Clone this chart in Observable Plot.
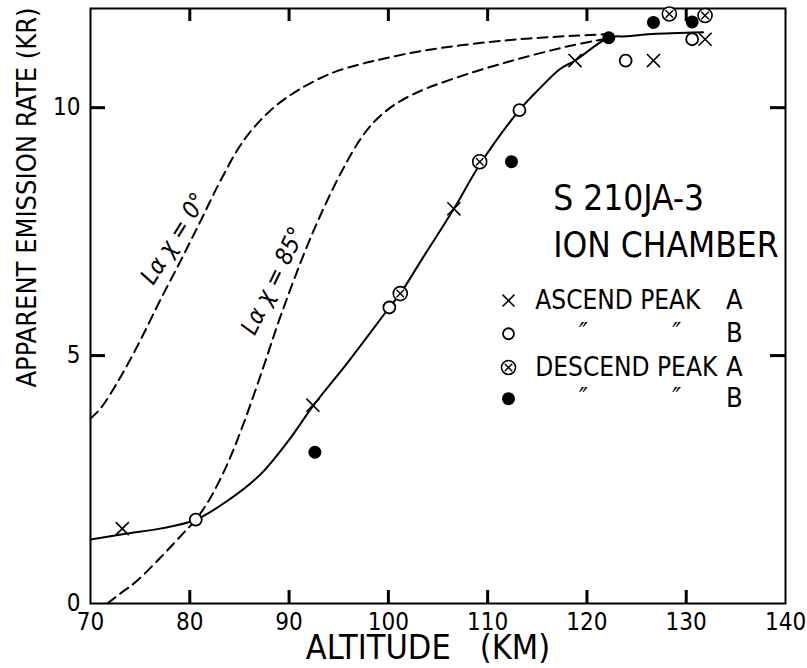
<!DOCTYPE html>
<html><head><meta charset="utf-8">
<script src="https://cdn.jsdelivr.net/npm/d3@7"></script>
<script src="https://cdn.jsdelivr.net/npm/@observablehq/plot@0.6"></script>
<style>body{margin:0;background:#fff;overflow:hidden;} #chart{width:807px;height:668px;}</style>
</head><body><div id="chart"></div>
<script>
// Solid fitted curve (altitude km, apparent emission rate kR)
const solidAlt = [70, 73.7, 77, 80.6, 84, 87.2, 90, 92.4, 95.9, 100.1, 101.2, 103.5, 106.6, 109.2, 113.2, 115.3, 117.3, 118.8, 122.2, 124, 127, 130, 131.7];
const solidVal = [1.29, 1.41, 1.51, 1.69, 2.1, 2.62, 3.3, 3.98, 4.86, 5.97, 6.25, 6.98, 7.96, 8.85, 9.95, 10.4, 10.78, 10.95, 11.41, 11.44, 11.49, 11.51, 11.52];
// Dashed model curve, chi = 0 deg
const chi0Alt = [70, 71, 73, 75, 77, 79.1, 81.1, 83.1, 85.4, 88.1, 90.8, 94.2, 96.9, 98.5, 101.9, 105.2, 108.6, 112, 115.3, 118.6, 121.7];
const chi0Val = [3.73, 3.93, 4.56, 5.30, 6.11, 6.92, 7.72, 8.53, 9.33, 9.94, 10.34, 10.69, 10.86, 10.94, 11.09, 11.2, 11.29, 11.36, 11.41, 11.45, 11.48];
// Dashed model curve, chi = 85 deg
const chi85Alt = [71.7, 73, 74.7, 77.4, 79.4, 80.6, 82.1, 83.8, 85.4, 87.4, 89.1, 91.5, 93.5, 95.5, 97.2, 98.6, 100.2, 101.9, 103.5, 105.2, 108.6, 112, 115.3, 118.6, 121.7];
const chi85Val = [0, 0.2, 0.46, 1.0, 1.43, 1.69, 2.14, 2.82, 3.62, 4.76, 5.77, 7.05, 7.98, 8.79, 9.37, 9.72, 10.0, 10.21, 10.36, 10.49, 10.72, 10.92, 11.1, 11.26, 11.38];
// Measurements
const ascAAlt = [73.2, 92.4, 106.6, 118.8, 126.7, 131.9];
const ascAVal = [1.51, 4.0, 7.96, 10.95, 10.95, 11.38];
const ascBAlt = [80.6, 100.1, 113.2, 123.9, 130.6];
const ascBVal = [1.69, 5.97, 9.95, 10.95, 11.38];
const desAAlt = [101.2, 109.2, 128.3, 131.9];
const desAVal = [6.25, 8.91, 11.89, 11.86];
const desBAlt = [92.6, 112.4, 122.2, 126.7, 130.6];
const desBVal = [3.05, 8.91, 11.41, 11.72, 11.73];
// Ticks
const xTicks = [70, 80, 90, 100, 110, 120, 130, 140];
const xInnerTicks = [80, 90, 100, 110, 120, 130];
const yTicks = [0, 5, 10];
const yInnerTicks = [5, 10];
// Labels
const xLabel = "ALTITUDE   (KM)";
const yLabel = "APPARENT EMISSION RATE (KR)";
const titleLines = ["S 210JA-3", "ION CHAMBER"];
const titleAlt = [116.6, 116.6];
const titleVal = [8.17, 7.22];
const curveLabels = ["Lα χ = 0°", "Lα χ = 85°"];
const curveLabelAlt = [78.4, 88.4];
const curveLabelVal = [7.36, 6.51];
const curveLabelAngle = [-58, -64];
// Legend
const legendMarkAlt = 112.1;
const legendTextAlt = 114.8;
const legendRowVal = [6.11, 5.44, 4.76, 4.13];
const legendText = ["ASCEND PEAK", "", "DESCEND PEAK", ""];
const legendDitto1 = ["", "″", "", "″"];
const legendDitto1Alt = 119.2;
const legendDitto2 = ["", "″", "", "″"];
const legendDitto2Alt = 128.6;
const legendLetter = ["A", "B", "A", "B"];
const legendLetterAlt = 134.0;

const pts = (xs, ys) => xs.map((x, i) => ({x, y: ys[i]}));
const font = "'Liberation Sans Narrow','DejaVu Sans Condensed','Liberation Sans',Arial,sans-serif";

const W = 807, H = 668, mL = 90, mR = 22, mT = 8, mB = 65;
const fw = W - mL - mR, fh = H - mT - mB;
const tickX = 13 * 12 / fh;   // ~13 px expressed in y units
const tickY = 15 * 70 / fw;   // ~15 px expressed in x units

const chart = Plot.plot({
  width: W, height: H,
  marginLeft: mL, marginRight: mR, marginTop: mT, marginBottom: mB,
  x: {domain: [70, 140]},
  y: {domain: [0, 12]},
  style: {fontFamily: font, fontSize: "24px", background: "white", color: "black"},
  marks: [
    Plot.axisX({ticks: xTicks, tickSize: 0, tickPadding: 9, label: null, fontSize: 24}),
    Plot.axisY({ticks: yTicks, tickSize: 0, tickPadding: 10, label: null, fontSize: 24}),
    Plot.frame({stroke: "black", strokeWidth: 2}),
    Plot.line(pts(chi0Alt, chi0Val), {x: "x", y: "y", curve: "catmull-rom", stroke: "black", strokeWidth: 2, strokeDasharray: "10,6"}),
    Plot.line(pts(chi85Alt, chi85Val), {x: "x", y: "y", curve: "catmull-rom", stroke: "black", strokeWidth: 2, strokeDasharray: "10,6"}),
    Plot.line(pts(solidAlt, solidVal), {x: "x", y: "y", curve: "catmull-rom", stroke: "black", strokeWidth: 2}),
    Plot.dot(pts(ascAAlt, ascAVal), {x: "x", y: "y", symbol: "times", r: 6, stroke: "black", strokeWidth: 1.6}),
    Plot.dot(pts(ascBAlt, ascBVal), {x: "x", y: "y", r: 6, fill: "white", stroke: "black", strokeWidth: 1.8}),
    Plot.dot(pts(desAAlt, desAVal), {x: "x", y: "y", r: 7, fill: "white", stroke: "black", strokeWidth: 1.6}),
    Plot.dot(pts(desAAlt, desAVal), {x: "x", y: "y", symbol: "times", r: 3.5, stroke: "black", strokeWidth: 1.4}),
    Plot.dot(pts(desBAlt, desBVal), {x: "x", y: "y", r: 6.5, fill: "black", stroke: "none"}),
    Plot.dot([0], {x: () => legendMarkAlt, y: () => legendRowVal[0], symbol: "times", r: 5.5, stroke: "black", strokeWidth: 1.6}),
    Plot.dot([0], {x: () => legendMarkAlt, y: () => legendRowVal[1], r: 5.5, fill: "white", stroke: "black", strokeWidth: 1.8}),
    Plot.dot([0], {x: () => legendMarkAlt, y: () => legendRowVal[2], r: 7, fill: "white", stroke: "black", strokeWidth: 1.6}),
    Plot.dot([0], {x: () => legendMarkAlt, y: () => legendRowVal[2], symbol: "times", r: 3.5, stroke: "black", strokeWidth: 1.4}),
    Plot.dot([0], {x: () => legendMarkAlt, y: () => legendRowVal[3], r: 6.5, fill: "black", stroke: "none"}),
    Plot.text(legendText, {x: () => legendTextAlt, y: (d, i) => legendRowVal[i], text: (d) => d, textAnchor: "start", fontSize: 26}),
    Plot.text(legendDitto1, {x: () => legendDitto1Alt, y: (d, i) => legendRowVal[i], text: (d) => d, textAnchor: "start", fontSize: 26, fontStyle: "italic"}),
    Plot.text(legendDitto2, {x: () => legendDitto2Alt, y: (d, i) => legendRowVal[i], text: (d) => d, textAnchor: "start", fontSize: 26, fontStyle: "italic"}),
    Plot.text(legendLetter, {x: () => legendLetterAlt, y: (d, i) => legendRowVal[i], text: (d) => d, textAnchor: "start", fontSize: 27}),
    Plot.text(titleLines, {x: (d, i) => titleAlt[i], y: (d, i) => titleVal[i], text: (d) => d, textAnchor: "start", fontSize: 35}),
    Plot.text(curveLabels, {x: (d, i) => curveLabelAlt[i], y: (d, i) => curveLabelVal[i], text: (d) => d, rotate: (d, i) => curveLabelAngle[i], fontSize: 24, fontStyle: "italic"}),
    Plot.text([xLabel], {frameAnchor: "bottom", dx: -10, dy: 45, text: (d) => d, fontSize: 34, textAnchor: "middle", lineAnchor: "middle"}),
    Plot.text([yLabel], {frameAnchor: "top-left", dx: -63, dy: 189, rotate: -90, text: (d) => d, fontSize: 27, textAnchor: "middle", lineAnchor: "middle"}),
    // inward ticks, drawn last
    Plot.ruleX(xInnerTicks, {x: (d) => d, y1: () => 0, y2: () => tickX, stroke: "black", strokeWidth: 3}),
    Plot.ruleX(xInnerTicks, {x: (d) => d, y1: () => 12 - tickX, y2: () => 12, stroke: "black", strokeWidth: 3}),
    Plot.ruleY(yInnerTicks, {y: (d) => d, x1: () => 70, x2: () => 70 + tickY, stroke: "black", strokeWidth: 3}),
    Plot.ruleY(yInnerTicks, {y: (d) => d, x1: () => 140 - tickY, x2: () => 140, stroke: "black", strokeWidth: 3})
  ]
});
document.getElementById("chart").appendChild(chart);
</script>
</body></html>
